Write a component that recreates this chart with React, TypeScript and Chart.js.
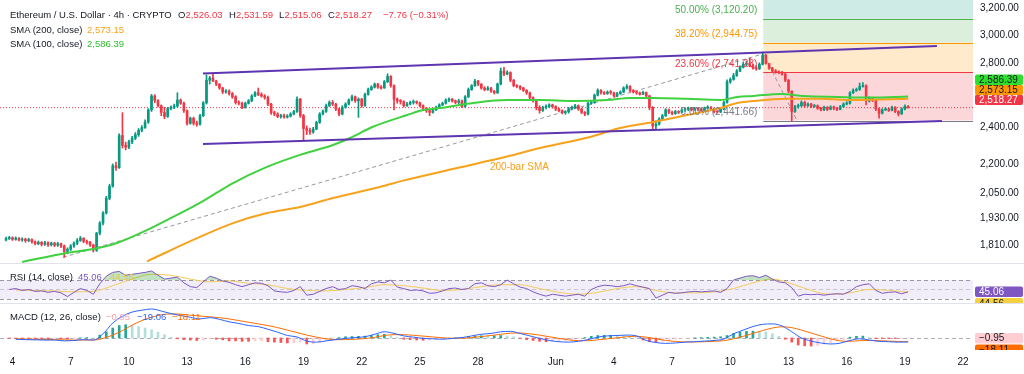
import React, { useEffect, useRef } from 'react';
import { Chart, registerables } from 'chart.js';

Chart.register(...registerables);

const FONT = '"Liberation Sans", Arial, Helvetica, sans-serif';
const INK = '#131722';
const UP = '#089981';
const DOWN = '#f23645';
const SMA100_COLOR = '#3fd13f';
const SMA200_COLOR = '#f7a21b';

// ---------- time (day numbers counted from 0 May, so 1 June = 32) ----------
const FIRST_CANDLE_DAY = 3 + 16 / 24; // first 4h candle
const CANDLES_PER_DAY = 6;
const DAY_TICKS = [4, 7, 10, 13, 16, 19, 22, 25, 28, 32, 35, 38, 41, 44, 47, 50, 53];
const DAY_LABELS = ['4', '7', '10', '13', '16', '19', '22', '25', '28', 'Jun', '4', '7', '10', '13', '16', '19', '22'];
const X_MIN = 3.3557;
const X_MAX = 53.51;

// ---------- 4h candles ----------
const FIRST_OPEN = 1832;
const CLOSE = [
  1838, 1842, 1835, 1840, 1832, 1836, 1829, 1834, 1824, 1816,
  1822, 1813, 1820, 1811, 1818, 1809, 1816, 1806, 1782, 1792,
  1806, 1818, 1830, 1840, 1826, 1822, 1810, 1788,
  1862, 1908, 1955, 2025, 2085, 2190, 2180, 2355,
  2300, 2290, 2320, 2340, 2360, 2385, 2400, 2432, 2505, 2590,
  2560, 2530, 2490, 2465, 2512, 2520, 2528, 2565, 2545, 2500,
  2425, 2455, 2425, 2420, 2470, 2548, 2690,
  2705, 2685, 2665, 2640, 2615, 2620, 2605,
  2585, 2550, 2545, 2520, 2545, 2560, 2590, 2610, 2600, 2590,
  2580, 2540, 2488, 2480, 2465, 2470, 2462, 2468, 2480, 2495,
  2570, 2470, 2395, 2385, 2375, 2392, 2430, 2480, 2495, 2530,
  2550, 2540, 2510, 2480,
  2520, 2540, 2565, 2585, 2560, 2570,
  2530, 2600, 2630, 2645, 2665, 2645, 2640, 2680, 2715, 2655,
  2570, 2560, 2555, 2530, 2540, 2550, 2555, 2548, 2530, 2515,
  2500, 2490, 2505, 2520, 2535, 2545, 2565, 2570, 2560, 2550,
  2560, 2525, 2585, 2630, 2655, 2685, 2665, 2640, 2630, 2640,
  2620, 2610, 2665, 2750, 2730, 2740, 2690, 2655, 2650, 2640,
  2625, 2610, 2580, 2560, 2520, 2500, 2520, 2525, 2535, 2525,
  2510, 2500, 2488, 2495, 2512, 2520, 2530, 2510, 2490, 2480,
  2545, 2550, 2595, 2625, 2610, 2605, 2615, 2610, 2590, 2605,
  2615, 2640, 2650, 2625, 2615, 2610, 2600, 2612, 2590, 2520,
  2410, 2420, 2450, 2470, 2505, 2490, 2482, 2495, 2490, 2505,
  2510, 2515, 2505, 2512, 2508, 2500, 2515, 2522, 2508, 2495,
  2492, 2510, 2550, 2680, 2695, 2720, 2750, 2775, 2795, 2800,
  2785, 2770, 2765, 2795, 2855, 2800, 2770, 2750, 2745, 2740,
  2730, 2690, 2620, 2495, 2525, 2530, 2550, 2530, 2540, 2525,
  2530, 2515, 2505, 2520, 2508, 2522, 2515, 2508, 2525, 2540,
  2545, 2610, 2625, 2630, 2650, 2655, 2560, 2575, 2565, 2510,
  2485, 2505, 2510, 2502, 2520, 2495, 2480, 2510, 2526.03, 2518.27,
];
const HIGH = [
  1845, 1848, 1846, 1846, 1843, 1842, 1840, 1840, 1837, 1828,
  1828, 1825, 1826, 1824, 1823, 1822, 1822, 1819, 1810, 1798,
  1812, 1824, 1838, 1848, 1842, 1832, 1826, 1814,
  1866, 1915, 1962, 2035, 2095, 2200, 2210, 2365,
  2488, 2318, 2330, 2350, 2372, 2395, 2412, 2445, 2512, 2600,
  2598, 2568, 2535, 2520, 2520, 2530, 2540, 2610, 2572, 2552,
  2505, 2462, 2462, 2438, 2478, 2555, 2724,
  2715, 2735, 2690, 2668, 2645, 2630, 2628,
  2612, 2592, 2560, 2552, 2552, 2568, 2598, 2618, 2640, 2610,
  2598, 2590, 2545, 2498, 2488, 2478, 2480, 2476, 2488, 2502,
  2585, 2575, 2478, 2410, 2398, 2402, 2438, 2488, 2505, 2540,
  2560, 2562, 2545, 2515,
  2530, 2548, 2572, 2595, 2590, 2578,
  2575, 2608, 2640, 2655, 2672, 2670, 2655, 2688, 2732, 2720,
  2660, 2578, 2568, 2560, 2550, 2558, 2565, 2560, 2552, 2535,
  2520, 2505, 2512, 2528, 2542, 2552, 2572, 2578, 2575, 2565,
  2570, 2565, 2592, 2640, 2662, 2695, 2690, 2668, 2648, 2650,
  2645, 2625, 2672, 2770, 2775, 2752, 2745, 2695, 2662, 2655,
  2645, 2630, 2615, 2585, 2565, 2530, 2528, 2535, 2542, 2540,
  2530, 2515, 2505, 2500, 2520, 2528, 2538, 2535, 2515, 2495,
  2552, 2560, 2602, 2635, 2630, 2618, 2622, 2625, 2615, 2612,
  2622, 2648, 2662, 2655, 2630, 2622, 2615, 2620, 2615, 2595,
  2525, 2440, 2458, 2478, 2512, 2510, 2498, 2502, 2500, 2512,
  2518, 2522, 2520, 2520, 2518, 2515, 2522, 2530, 2525, 2512,
  2500, 2518, 2558, 2692, 2705, 2735, 2760, 2785, 2810, 2815,
  2838, 2795, 2785, 2805, 2878, 2862, 2800, 2775, 2760, 2752,
  2748, 2735, 2695, 2622, 2532, 2540, 2560, 2558, 2548, 2545,
  2538, 2535, 2520, 2528, 2525, 2530, 2528, 2520, 2532, 2548,
  2555, 2618, 2635, 2640, 2672, 2675, 2660, 2585, 2582, 2570,
  2515, 2512, 2518, 2515, 2528, 2525, 2500, 2518, 2535, 2531.59,
];
const LOW = [
  1828, 1834, 1830, 1831, 1828, 1826, 1822, 1825, 1818, 1810,
  1811, 1806, 1808, 1804, 1806, 1803, 1804, 1798, 1757, 1772,
  1786, 1800, 1812, 1826, 1820, 1814, 1804, 1780,
  1782, 1855, 1900, 1950, 2018, 2080, 2165, 2176,
  2285, 2275, 2282, 2310, 2332, 2350, 2375, 2395, 2425, 2495,
  2548, 2522, 2470, 2452, 2460, 2505, 2512, 2520, 2538, 2490,
  2415, 2420, 2415, 2408, 2415, 2465, 2540,
  2665, 2680, 2655, 2632, 2605, 2608, 2595,
  2575, 2540, 2535, 2512, 2515, 2540, 2555, 2585, 2592, 2582,
  2570, 2530, 2478, 2470, 2458, 2455, 2455, 2456, 2462, 2475,
  2490, 2460, 2330, 2360, 2362, 2368, 2388, 2425, 2475, 2490,
  2525, 2530, 2500, 2470,
  2475, 2515, 2535, 2560, 2550, 2460,
  2520, 2525, 2595, 2625, 2640, 2638, 2632, 2638, 2675, 2645,
  2505, 2545, 2540, 2522, 2525, 2535, 2540, 2540, 2522, 2505,
  2490, 2470, 2485, 2500, 2515, 2530, 2540, 2555, 2552, 2542,
  2540, 2518, 2520, 2580, 2625, 2650, 2655, 2632, 2622, 2625,
  2612, 2602, 2605, 2660, 2720, 2725, 2680, 2648, 2640, 2630,
  2618, 2600, 2570, 2552, 2505, 2485, 2495, 2510, 2518, 2515,
  2500, 2492, 2480, 2478, 2485, 2505, 2512, 2502, 2482, 2470,
  2475, 2538, 2545, 2590, 2602, 2598, 2600, 2600, 2582, 2585,
  2600, 2610, 2632, 2615, 2608, 2600, 2595, 2598, 2582, 2505,
  2385, 2392, 2415, 2445, 2465, 2482, 2475, 2478, 2482, 2488,
  2495, 2500, 2498, 2502, 2498, 2492, 2498, 2508, 2500, 2486,
  2485, 2488, 2505, 2545, 2670, 2690, 2715, 2745, 2770, 2785,
  2778, 2762, 2755, 2760, 2790, 2795, 2760, 2742, 2735, 2732,
  2722, 2680, 2610, 2435, 2490, 2515, 2525, 2522, 2525, 2518,
  2520, 2508, 2498, 2500, 2500, 2505, 2505, 2500, 2505, 2520,
  2535, 2540, 2605, 2618, 2625, 2645, 2535, 2552, 2555, 2500,
  2456, 2480, 2500, 2495, 2498, 2488, 2468, 2478, 2505, 2515.06,
];
const LEGEND_OPEN = 2526.03;
const LEGEND_HIGH = 2531.59;
const LEGEND_LOW = 2515.06;
const LAST_CLOSE = 2518.27;
const CHANGE = -7.76;
const CHANGE_PCT = -0.31;

// ---------- moving averages ----------
const SMA100_DAY = [4.5, 6.81, 8.15, 9.39, 10.73, 11.96, 13.66, 15.37, 17.12, 18.82, 20.52, 21.4, 22.58, 24.34, 25.17, 26.04, 27.75, 29.49, 31.19, 32.89, 34.66, 35.84, 37.03, 38.78, 40.49, 41.36, 42.19, 43.58, 44.77, 46.53, 48.23, 50.17];
const SMA100_VAL = [1738, 1776, 1793, 1819, 1868, 1922, 2003, 2101, 2184, 2248, 2302, 2341, 2405, 2474, 2504, 2516, 2547, 2565, 2565, 2559, 2565, 2578, 2578, 2572, 2565, 2584, 2590, 2603, 2590, 2584, 2580, 2586.39];
const SMA200_DAY = [10.93, 11.96, 13.66, 15.37, 17.12, 18.82, 20.52, 22.94, 24.13, 26.92, 29.49, 31.19, 33.77, 35.32, 37.03, 38.78, 40.49, 41.36, 42.19, 43.94, 45.65, 47.35, 50.17];
const SMA200_VAL = [1740, 1780, 1846, 1908, 1955, 1983, 2027, 2081, 2113, 2178, 2239, 2285, 2347, 2398, 2433, 2474, 2516, 2547, 2559, 2572, 2572, 2565, 2573.15];
const SMA100_LAST = 2586.39;
const SMA200_LAST = 2573.15;

// ---------- drawings ----------
const CH_UP_DAY = [13.82, 51.65];
const CH_UP_VAL = [2734, 2921];
const CH_LO_DAY = [13.82, 51.91];
const CH_LO_VAL = [2308, 2439];
const TREND_DAY = [6.6, 42.7, 44.44];
const TREND_VAL = [1757, 2866, 2441.66];
const FIB_DAY = 42.7;
const FIB_LEVEL = [0, 0.236, 0.382, 0.5];
const FIB_PRICE = [2441.66, 2741.23, 2944.75, 3120.2];
const FIB_COLOR = ['#787b86', '#f23645', '#ff9800', '#4caf50'];
const FIB_FILL = ['rgba(242,54,69,0.2)', 'rgba(255,152,0,0.2)', 'rgba(76,175,80,0.2)', 'rgba(8,153,129,0.2)'];
const PRICE_TICKS = [1810, 1930, 2050, 2200, 2400, 2800, 3000, 3200];
const PRICE_MIN = 1729.3;
const PRICE_MAX = 3262.1;

// ---------- RSI (8h steps) ----------
const RSI_FIRST_DAY = FIRST_CANDLE_DAY + 1 / 6;
const RSI = [
  50, 52, 48, 50, 46, 47, 44, 46, 43,
  35, 44, 52, 48, 40,
  62, 78, 86, 88, 80, 82, 84, 86, 89,
  80, 72, 74, 76, 64, 56, 54,
  66, 78, 74, 68, 65, 60, 56, 60, 64, 63,
  58, 47, 45, 44, 48, 56, 38, 40, 46, 52,
  56, 50, 52, 58, 56, 52, 62, 66, 64, 70,
  55, 52, 48, 49, 47, 42, 43, 47, 52, 53,
  50, 52, 62, 64, 58, 56, 60, 70, 62, 55,
  52, 45, 40, 36, 40, 38, 36, 38, 40, 36,
  50, 56, 59, 58, 56, 58, 62, 58, 55, 52,
  32, 38, 44, 42, 43, 45, 46, 45, 46, 47,
  44, 52, 70, 74, 78, 79, 75, 80, 72, 66,
  64, 54, 36, 40, 39, 40, 38, 40, 41, 40,
  46, 56, 60, 62, 48, 42, 44, 45, 41, 45.06,
];
// RSI-based MA, daily steps
const RSI_MA_FIRST_DAY = FIRST_CANDLE_DAY + 0.5;
const RSI_MA = [
  49, 48, 47, 45, 46, 58, 72, 82, 80, 72,
  66, 68, 63, 60, 52, 48, 47, 50, 54, 60,
  58, 53, 48, 50, 56, 60, 60, 52, 44, 40,
  44, 52, 56, 48, 43, 43, 45, 52, 64, 72,
  62, 48, 40, 43, 50, 48, 44.56,
];
const RSI_LAST = 45.06;
const RSI_MA_LAST = 44.56;
const RSI_MIN = 19.47;
const RSI_MAX = 103.68;

// ---------- MACD (lines: 12h steps, histogram: 8h steps) ----------
const MACD_FIRST_DAY = FIRST_CANDLE_DAY + 0.5;
const MACD_LINE = [
  -6, -8, -9, -10, -10, -14, -12, -8, -10, 20,
  72, 105, 125, 134, 140, 130, 118, 108, 100, 92,
  98, 90, 78, 70, 60, 55, 42, 28, 12, 5,
  -15, -20, -14, -8, -2, 2, 6, 18, 30, 22,
  10, 4, -2, -4, -6, -2, 2, 10, 18, 22,
  30, 32, 22, 10, -2, -12, -18, -20, -16, -8,
  4, 10, 12, 14, 10, -12, -22, -26, -24, -20,
  -18, -15, -12, -5, 20, 38, 55, 66, 68, 58,
  30, 0, -15, -24, -29, -25, -12, -4, -10, -16,
  -18, -20, -19.06,
];
const MACD_SIGNAL = [
  -4, -5, -6, -7, -8, -9, -10, -10, -10, -2,
  14, 36, 62, 84, 100, 112, 116, 115, 110, 106,
  102, 98, 92, 84, 76, 68, 60, 50, 38, 26,
  14, 4, -4, -8, -8, -6, -3, 3, 12, 16,
  16, 13, 9, 5, 1, -1, -1, 2, 7, 12,
  18, 23, 24, 20, 14, 6, -2, -9, -13, -13,
  -9, -4, 1, 6, 8, 4, -4, -12, -17, -19,
  -19, -18, -16, -13, -4, 8, 22, 36, 48, 54,
  50, 38, 24, 10, -4, -14, -16, -13, -12, -13,
  -15, -17, -18.11,
];
const HIST_FIRST_DAY = FIRST_CANDLE_DAY + 1 / 6;
const MACD_HIST = [
  -2, -2, -3, -3, -3, -3, -3, -2, -4, -5,
  -2, 1, 2, 0, 14, 30, 48, 60, 64, 62,
  55, 48, 40, 28, 16, 4, -4, -8, -10, -12,
  -10, -4, -6, -9, -14, -14, -16, -16, -14, -13,
  -18, -20, -22, -24, -22, -20, -29, -28, -22, -12,
  -4, 2, 6, 7, 8, 9, 12, 16, 18, 10,
  2, -6, -8, -10, -11, -10, -9, -7, -3, 0,
  3, 6, 9, 11, 10, 11, 12, 10, 6, -2,
  -8, -12, -16, -18, -17, -16, -12, -8, -3, 2,
  8, 12, 13, 13, 11, 9, 7, 2, -10, -18,
  -18, -15, -12, -7, -3, -1, 1, 2, 3, 4,
  6, 12, 22, 28, 32, 33, 32, 30, 20, 8,
  -6, -20, -34, -38, -39, -36, -30, -25, -14, -6,
  4, 8, 9, 2, -3, -3, -3, -3, -2, -0.95,
];
const MACD_LAST = -19.06;
const SIGNAL_LAST = -18.11;
const HIST_LAST = -0.95;
const MACD_MIN = -58;
const MACD_MAX = 164;

// ---------- helpers ----------
const AXIS_W = 51;
const fmt = (v: number) => v.toLocaleString('en-US', { minimumFractionDigits: 2, maximumFractionDigits: 2 });
const sfmt = (v: number) => (v < 0 ? '\u2212' : '') + fmt(Math.abs(v));
const pts = (days: number[], vals: number[]) => days.map((d, i) => ({ x: d, y: vals[i] }));
const stepPts = (first: number, step: number, vals: number[]) => vals.map((v, i) => ({ x: first + i * step, y: v }));

const hiddenX = {
  type: 'linear', min: X_MIN, max: X_MAX, offset: false, display: false,
  grid: { display: false },
};
const fixedRightAxis = (extra: any) => ({
  position: 'right',
  grid: { display: false, drawTicks: false },
  border: { display: false },
  afterFit: (s: any) => { s.width = AXIS_W; s.paddingTop = 0; s.paddingBottom = 0; },
  ...extra,
});
const baseOptions = {
  responsive: false,
  animation: false,
  devicePixelRatio: 1,
  events: [],
  layout: { padding: 0 },
  plugins: { legend: { display: false }, tooltip: { enabled: false } },
};

function drawBox(ctx: any, x: number, yc: number, bg: string, fg: string, text: string) {
  const h = 10.5;
  ctx.fillStyle = bg;
  ctx.beginPath();
  if (ctx.roundRect) ctx.roundRect(x, yc - h / 2, 48, h, 2); else ctx.rect(x, yc - h / 2, 48, h);
  ctx.fill();
  ctx.fillStyle = fg;
  ctx.font = `10px ${FONT}`;
  ctx.textAlign = 'left';
  ctx.textBaseline = 'middle';
  ctx.fillText(text, x + 4, yc + 0.5);
}

const pricePlugin = {
  id: 'priceExtras',
  beforeDatasetsDraw(chart: any) {
    const { ctx, chartArea: a, scales } = chart;
    const x0 = scales.x.getPixelForValue(FIB_DAY);
    const ys = FIB_PRICE.map((p) => scales.y.getPixelForValue(p));
    ctx.save();
    ctx.beginPath();
    ctx.rect(a.left, a.top, a.right - a.left, a.bottom - a.top);
    ctx.clip();
    for (let k = 0; k < FIB_PRICE.length; k++) {
      const top = k < FIB_PRICE.length - 1 ? ys[k + 1] : a.top;
      ctx.fillStyle = FIB_FILL[k];
      ctx.fillRect(x0, top, a.right - x0, ys[k] - top);
    }
    ctx.lineWidth = 1;
    for (let k = 0; k < FIB_PRICE.length; k++) {
      ctx.strokeStyle = FIB_COLOR[k];
      ctx.beginPath();
      ctx.moveTo(x0, Math.round(ys[k]) + 0.5);
      ctx.lineTo(a.right, Math.round(ys[k]) + 0.5);
      ctx.stroke();
    }
    ctx.restore();
  },
  afterDatasetsDraw(chart: any) {
    const { ctx, scales } = chart;
    const x0 = scales.x.getPixelForValue(FIB_DAY);
    ctx.save();
    ctx.font = `10px ${FONT}`;
    ctx.textAlign = 'right';
    ctx.textBaseline = 'bottom';
    for (let k = 0; k < FIB_PRICE.length; k++) {
      const y = scales.y.getPixelForValue(FIB_PRICE[k]);
      ctx.fillStyle = FIB_COLOR[k];
      ctx.fillText(`${(FIB_LEVEL[k] * 100).toFixed(2)}% (${fmt(FIB_PRICE[k])})`, x0 - 6, y - 3);
    }
    ctx.restore();
  },
  afterDraw(chart: any) {
    const { ctx, chartArea: a, scales } = chart;
    const items = [
      { v: LAST_CLOSE, bg: DOWN, fg: '#ffffff' },
      { v: SMA200_LAST, bg: '#ff9800', fg: INK },
      { v: SMA100_LAST, bg: '#2ee02e', fg: INK },
    ];
    ctx.save();
    let prev = Infinity;
    items.forEach((it, i) => {
      let y = scales.y.getPixelForValue(it.v);
      if (i === 0) y -= 8; // the last-price label carries a countdown row under it
      y = Math.min(y, prev - 10);
      prev = y;
      drawBox(ctx, a.right + 2, y, it.bg, it.fg, fmt(it.v));
    });
    ctx.restore();
  },
};

const rsiPlugin = {
  id: 'rsiExtras',
  beforeDatasetsDraw(chart: any) {
    const { ctx, chartArea: a, scales } = chart;
    const y70 = scales.y.getPixelForValue(70);
    const y50 = scales.y.getPixelForValue(50);
    const y30 = scales.y.getPixelForValue(30);
    ctx.save();
    ctx.fillStyle = 'rgba(126,87,194,0.1)';
    ctx.fillRect(a.left, y70, a.right - a.left, y30 - y70);
    ctx.strokeStyle = 'rgba(120,123,134,0.75)';
    ctx.lineWidth = 1;
    ctx.setLineDash([4, 3]);
    [y70, y30].forEach((y) => {
      ctx.beginPath(); ctx.moveTo(a.left, Math.round(y) + 0.5); ctx.lineTo(a.right, Math.round(y) + 0.5); ctx.stroke();
    });
    ctx.strokeStyle = 'rgba(120,123,134,0.35)';
    ctx.beginPath(); ctx.moveTo(a.left, Math.round(y50) + 0.5); ctx.lineTo(a.right, Math.round(y50) + 0.5); ctx.stroke();
    ctx.restore();
  },
  afterDraw(chart: any) {
    const { ctx, chartArea: a, scales } = chart;
    ctx.save();
    const y1 = scales.y.getPixelForValue(RSI_LAST);
    const y2 = Math.max(scales.y.getPixelForValue(RSI_MA_LAST), y1 + 11.5);
    drawBox(ctx, a.right + 2, y2, '#f5d142', INK, fmt(RSI_MA_LAST));
    drawBox(ctx, a.right + 2, y1, '#7e57c2', '#ffffff', fmt(RSI_LAST));
    ctx.restore();
  },
};

const macdPlugin = {
  id: 'macdExtras',
  beforeDatasetsDraw(chart: any) {
    const { ctx, chartArea: a, scales } = chart;
    const y0 = Math.round(scales.y.getPixelForValue(0)) + 0.5;
    ctx.save();
    ctx.strokeStyle = 'rgba(120,123,134,0.6)';
    ctx.lineWidth = 1;
    ctx.setLineDash([4, 3]);
    ctx.beginPath(); ctx.moveTo(a.left, y0); ctx.lineTo(a.right, y0); ctx.stroke();
    ctx.restore();
  },
  afterDraw(chart: any) {
    const { ctx, chartArea: a, scales } = chart;
    ctx.save();
    ctx.beginPath();
    ctx.rect(a.right, a.top, AXIS_W, a.bottom - a.top);
    ctx.clip();
    const yh = scales.y.getPixelForValue(HIST_LAST);
    const ys = Math.max(scales.y.getPixelForValue(SIGNAL_LAST), yh + 11.5);
    const ym = Math.max(scales.y.getPixelForValue(MACD_LAST), ys + 11.5);
    drawBox(ctx, a.right + 2, ym, '#2962ff', '#ffffff', sfmt(MACD_LAST));
    drawBox(ctx, a.right + 2, ys, '#ff6d00', INK, sfmt(SIGNAL_LAST));
    drawBox(ctx, a.right + 2, yh, '#ffcdd2', INK, sfmt(HIST_LAST));
    ctx.restore();
  },
};

export default function App() {
  const priceRef = useRef<HTMLCanvasElement>(null);
  const rsiRef = useRef<HTMLCanvasElement>(null);
  const macdRef = useRef<HTMLCanvasElement>(null);

  useEffect(() => {
    const opens = CLOSE.map((c, i) => (i === 0 ? FIRST_OPEN : CLOSE[i - 1]));
    const day = (i: number) => FIRST_CANDLE_DAY + i / CANDLES_PER_DAY;
    const colors = CLOSE.map((c, i) => (c >= opens[i] ? UP : DOWN));

    const price = new Chart(priceRef.current as any, {
      type: 'line',
      data: {
        datasets: [
          { type: 'line', data: pts(CH_UP_DAY, CH_UP_VAL), borderColor: '#5e35b1', borderWidth: 2, pointRadius: 0, order: 0 },
          { type: 'line', data: pts(CH_LO_DAY, CH_LO_VAL), borderColor: '#5e35b1', borderWidth: 2, pointRadius: 0, order: 0 },
          { type: 'line', data: pts(SMA100_DAY, SMA100_VAL), borderColor: SMA100_COLOR, borderWidth: 2, pointRadius: 0, cubicInterpolationMode: 'monotone', order: 1 },
          { type: 'line', data: pts(SMA200_DAY, SMA200_VAL), borderColor: SMA200_COLOR, borderWidth: 2, pointRadius: 0, cubicInterpolationMode: 'monotone', order: 2 },
          { type: 'bar', data: CLOSE.map((c, i) => ({ x: day(i), y: [opens[i], c] })), backgroundColor: colors, borderWidth: 0, barThickness: 2, minBarLength: 1, grouped: false, order: 3 },
          { type: 'bar', data: CLOSE.map((c, i) => ({ x: day(i), y: [LOW[i], HIGH[i]] })), backgroundColor: colors, borderWidth: 0, barThickness: 1, grouped: false, order: 4 },
          { type: 'line', data: pts(TREND_DAY, TREND_VAL), borderColor: '#9598a1', borderWidth: 1, borderDash: [4, 3], pointRadius: 0, order: 5 },
          { type: 'line', data: [{ x: X_MIN, y: LAST_CLOSE }, { x: X_MAX, y: LAST_CLOSE }], borderColor: DOWN, borderWidth: 1, borderDash: [1, 2], pointRadius: 0, order: 6 },
        ],
      } as any,
      options: {
        ...baseOptions,
        scales: {
          x: hiddenX,
          y: fixedRightAxis({
            type: 'logarithmic', min: PRICE_MIN, max: PRICE_MAX, bounds: 'data',
            ticks: { padding: 7, color: INK, font: { family: FONT, size: 10 }, autoSkip: false, callback: (v: number) => fmt(v) },
            afterBuildTicks: (s: any) => { s.ticks = PRICE_TICKS.map((v) => ({ value: v })); },
          }),
        },
      } as any,
      plugins: [pricePlugin],
    });

    const rsi = new Chart(rsiRef.current as any, {
      type: 'line',
      data: {
        datasets: [
          {
            data: stepPts(RSI_FIRST_DAY, 1 / 3, RSI), borderColor: '#7e57c2', borderWidth: 1, pointRadius: 0, order: 1,
            fill: { target: { value: 70 }, above: 'rgba(76,175,80,0.35)', below: 'rgba(0,0,0,0)' },
          },
          { data: stepPts(RSI_MA_FIRST_DAY, 1, RSI_MA), borderColor: '#f2cc5a', borderWidth: 1, pointRadius: 0, cubicInterpolationMode: 'monotone', order: 2 },
        ],
      } as any,
      options: {
        ...baseOptions,
        scales: {
          x: hiddenX,
          y: fixedRightAxis({ type: 'linear', min: RSI_MIN, max: RSI_MAX, ticks: { display: false } }),
        },
      } as any,
      plugins: [rsiPlugin],
    });

    const histColors = MACD_HIST.map((v, i) => {
      const p = i === 0 ? v : MACD_HIST[i - 1];
      if (v >= 0) return v >= p ? '#26a69a' : '#b2dfdb';
      return v <= p ? '#ff5252' : '#ffcdd2';
    });

    const macd = new Chart(macdRef.current as any, {
      type: 'line',
      data: {
        datasets: [
          { type: 'line', data: stepPts(MACD_FIRST_DAY, 0.5, MACD_LINE), borderColor: '#2962ff', borderWidth: 1, pointRadius: 0, cubicInterpolationMode: 'monotone', order: 1 },
          { type: 'line', data: stepPts(MACD_FIRST_DAY, 0.5, MACD_SIGNAL), borderColor: '#ff6d00', borderWidth: 1, pointRadius: 0, cubicInterpolationMode: 'monotone', order: 2 },
          { type: 'bar', data: stepPts(HIST_FIRST_DAY, 1 / 3, MACD_HIST), backgroundColor: histColors, borderWidth: 0, barThickness: 2, grouped: false, order: 3 },
        ],
      } as any,
      options: {
        ...baseOptions,
        scales: {
          x: {
            type: 'linear', min: X_MIN, max: X_MAX, offset: false, position: 'bottom',
            grid: { display: false, drawTicks: false }, border: { display: false },
            ticks: {
              autoSkip: false, maxRotation: 0, minRotation: 0, padding: 6, color: INK, font: { family: FONT, size: 10 },
              callback: (v: number) => { const k = DAY_TICKS.indexOf(v); return k < 0 ? '' : DAY_LABELS[k]; },
            },
            afterBuildTicks: (s: any) => { s.ticks = DAY_TICKS.map((v) => ({ value: v })); },
            afterFit: (s: any) => { s.height = 24; s.paddingLeft = 0; s.paddingRight = 0; },
          },
          y: fixedRightAxis({ type: 'linear', min: MACD_MIN, max: MACD_MAX, ticks: { display: false } }),
        },
      } as any,
      plugins: [macdPlugin],
    });

    return () => { price.destroy(); rsi.destroy(); macd.destroy(); };
  }, []);

  const txt = (left: number, top: number, color: string, s: string, size = 10) => (
    <span style={{ position: 'absolute', left, top, color, fontSize: size, lineHeight: '12px', whiteSpace: 'nowrap' }}>{s}</span>
  );
  const L1 = 9.5;

  return (
    <div style={{ position: 'fixed', left: 0, top: 0, width: 1024, height: 374, background: '#ffffff', overflow: 'hidden', fontFamily: FONT }}>
      <canvas ref={priceRef} width={1024} height={264} style={{ position: 'absolute', left: 0, top: 0, width: 1024, height: 264 }} />
      <canvas ref={rsiRef} width={1024} height={40} style={{ position: 'absolute', left: 0, top: 264, width: 1024, height: 40 }} />
      <canvas ref={macdRef} width={1024} height={70} style={{ position: 'absolute', left: 0, top: 304, width: 1024, height: 70 }} />
      <div style={{ position: 'absolute', left: 0, top: 263, width: 1024, height: 1, background: '#e0e3eb' }} />
      <div style={{ position: 'absolute', left: 0, top: 303, width: 1024, height: 1, background: '#e0e3eb' }} />

      {txt(10, 9, INK, 'Ethereum / U.S. Dollar \u00b7 4h \u00b7 CRYPTO', L1)}
      {txt(178, 9, INK, 'O', L1)}{txt(185.5, 9, DOWN, fmt(LEGEND_OPEN), L1)}
      {txt(229, 9, INK, 'H', L1)}{txt(236, 9, DOWN, fmt(LEGEND_HIGH), L1)}
      {txt(279, 9, INK, 'L', L1)}{txt(284.5, 9, DOWN, fmt(LEGEND_LOW), L1)}
      {txt(328, 9, INK, 'C', L1)}{txt(335, 9, DOWN, fmt(LAST_CLOSE), L1)}
      {txt(383, 9, DOWN, `${sfmt(CHANGE)} (${sfmt(CHANGE_PCT)}%)`, L1)}
      {txt(10, 23.5, INK, 'SMA (200, close)', L1)}{txt(87, 23.5, SMA200_COLOR, fmt(SMA200_LAST), L1)}
      {txt(10, 37.5, INK, 'SMA (100, close)', L1)}{txt(87, 37.5, '#2fbf2f', fmt(SMA100_LAST), L1)}

      {txt(490, 161, SMA200_COLOR, '200-bar SMA')}

      {txt(10, 271, INK, 'RSI (14, close)', L1)}{txt(78, 271, '#7e57c2', fmt(RSI_LAST), L1)}{txt(110, 271, '#e8c34a', fmt(RSI_MA_LAST), L1)}
      {txt(10, 311, INK, 'MACD (12, 26, close)', L1)}{txt(106, 311, '#f4a3ab', sfmt(HIST_LAST), L1)}{txt(137, 311, '#2962ff', sfmt(MACD_LAST), L1)}{txt(172, 311, '#ff6d00', sfmt(SIGNAL_LAST), L1)}
    </div>
  );
}
